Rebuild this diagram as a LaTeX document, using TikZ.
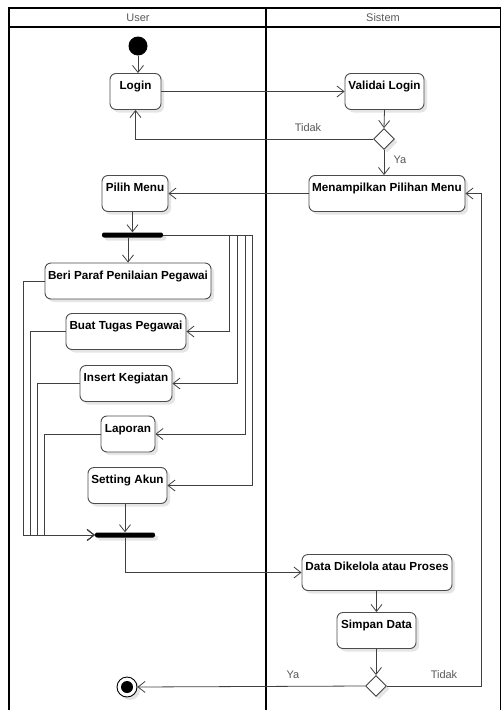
\documentclass[tikz,border=0pt]{standalone}
\usepackage{fontspec}
\setmainfont{Liberation Sans}
\usetikzlibrary{arrows.meta,shapes.geometric,shadows}

\begin{document}
\begin{tikzpicture}[x=1pt,y=-1pt,
  act/.style={draw=black!70, line width=0.9pt, rounded corners=6pt, fill=white,
    inner xsep=3pt, inner ysep=0pt, text height=16pt, text depth=20pt,
    minimum height=36pt, font=\fontsize{11.7}{13}\selectfont\bfseries,
    drop shadow={shadow xshift=3pt, shadow yshift=-3pt, fill=black!10, opacity=1}},
  flow/.style={draw=black!75, line width=0.8pt, -{Straight Barb[length=7pt,width=11pt]}},
  syncbar/.style={fill=black, rounded corners=2pt, minimum height=5pt, inner sep=0pt,
    drop shadow={shadow xshift=3pt, shadow yshift=-3pt, fill=black!10, opacity=1}},
  decision/.style={diamond, aspect=1, draw=black!75, fill=white, line width=0.9pt,
    minimum width=21pt, minimum height=21pt, inner sep=0pt,
    drop shadow={shadow xshift=3pt, shadow yshift=-3pt, fill=black!10, opacity=1}},
  lbl/.style={font=\fontsize{11}{13}\selectfont, text=black!65, inner sep=0pt},
  lane/.style={draw=black, line width=1.4pt}
]
\useasboundingbox (0,0) rectangle (501,710);

% swimlanes
\draw[lane] (9,710) -- (9,8) -- (500.3,8) -- (500.3,710);
\draw[lane] (9,27) -- (500.3,27);
\draw[lane] (266,8) -- (266,710);
\node[lbl] (laneuser) at (138,18) {User};
\node[lbl] (lanesys) at (383,18) {Sistem};

% initial and final states
\node[circle, fill=black, minimum size=19pt, inner sep=0pt] (start) at (138,46) {};
\node[circle, draw=black, line width=0.9pt, fill=white, minimum size=20pt, inner sep=0pt,
  drop shadow={shadow xshift=3pt, shadow yshift=-3pt, fill=black!10, opacity=1}] (final) at (127,687) {};
\node[circle, fill=black, minimum size=12pt, inner sep=0pt] (finaldot) at (final.center) {};

% activities
\node[act, minimum width=51pt]  (login)   at (135.5,91.5) {Login};
\node[act, minimum width=79pt]  (validai) at (384.5,91.5) {Validai Login};
\node[act, minimum width=156pt] (menu)    at (387,193.5)  {Menampilkan Pilihan Menu};
\node[act, minimum width=66pt]  (pilih)   at (135,193.5)  {Pilih Menu};
\node[act, minimum width=166pt] (beri)    at (128,281)    {Beri Paraf Penilaian Pegawai};
\node[act, minimum width=120pt] (buat)    at (126,331.5)  {Buat Tugas Pegawai};
\node[act, minimum width=92pt]  (insert)  at (126,383.5)  {Insert Kegiatan};
\node[act, minimum width=54pt]  (laporan) at (128,434)    {Laporan};
\node[act, minimum width=79pt]  (setting) at (127.5,485.5){Setting Akun};
\node[act, minimum width=150pt] (data)    at (377,572.5)  {Data Dikelola atau Proses};
\node[act, minimum width=79pt]  (simpan)  at (376.5,630.5){Simpan Data};

% decisions and bars
\node[decision] (d1) at (384,139) {};
\node[decision] (d2) at (376,686) {};
\node[syncbar, minimum width=61pt] (fork1) at (132.5,235) {};
\node[syncbar, minimum width=60pt] (bar2)  at (125,535) {};

% guard labels
\node[lbl] (tidak1) at (308,128) {Tidak};
\node[lbl] (ya1)    at (400,160) {Ya};
\node[lbl] (ya2)    at (293,675) {Ya};
\node[lbl] (tidak2) at (444,675) {Tidak};

% routing points
\coordinate (c1) at (229,235);
\coordinate (c2) at (237,235);
\coordinate (c3) at (245,235);
\coordinate (c4) at (252,235);
\coordinate (l1) at (23,535);
\coordinate (l2) at (30,535);
\coordinate (l3) at (37,535);
\coordinate (l4) at (44,535);
\coordinate (rr) at (481,686);

% flows
\draw[flow] (start.south) -- (start.south |- login.north);
\draw[flow] (login.east) -- (validai.west);
\draw[flow] (validai.south) -- (d1.north);
\draw[flow] (d1.west) -| (login.south);
\draw[flow] (d1.south) -- (menu.north -| d1.south);
\draw[flow] (menu.west) -- (pilih.east);
\draw[flow] (pilih.south -| fork1.north) -- (fork1.north);
\draw[flow] (fork1.south -| beri.north) -- (beri.north);
\draw[flow] (fork1.east) -- (c1) |- (buat.east);
\draw[flow] (fork1.east) -- (c2) |- (insert.east);
\draw[flow] (fork1.east) -- (c3) |- (laporan.east);
\draw[flow] (fork1.east) -- (c4) |- (setting.east);
\draw[flow] (beri.west) -| (l1) -- (bar2.west);
\draw[flow] (buat.west) -| (l2) -- (bar2.west);
\draw[flow] (insert.west) -| (l3) -- (bar2.west);
\draw[flow] (laporan.west) -| (l4) -- (bar2.west);
\draw[flow] (setting.south -| bar2.north) -- (bar2.north);
\draw[flow] (bar2.south) |- (data.west);
\draw[flow] (data.south -| simpan.north) -- (simpan.north);
\draw[flow] (simpan.south -| d2.north) -- (d2.north);
\draw[flow] (d2.west) -- (final.east);
\draw[flow] (d2.east) -- (rr) |- (menu.east);
\end{tikzpicture}
\end{document}
